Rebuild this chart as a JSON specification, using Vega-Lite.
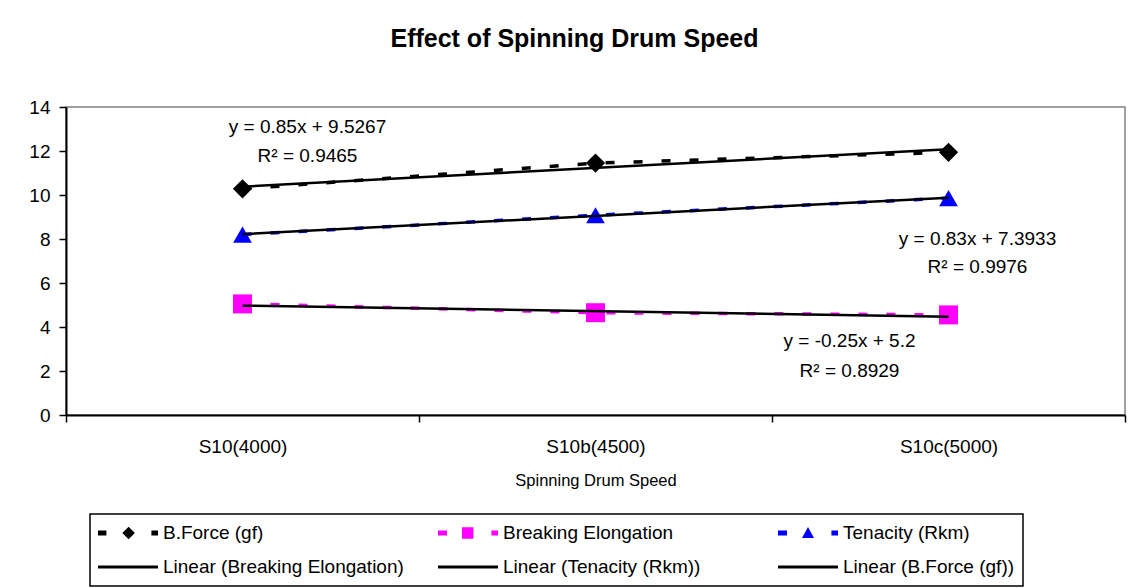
{
  "$schema": "https://vega.github.io/schema/vega-lite/v6.json",
  "width": 1059,
  "height": 308,
  "autosize": {"type": "none"},
  "padding": {"left": 66, "top": 107, "right": 10, "bottom": 173},
  "background": "white",
  "title": {
    "text": "Effect of Spinning Drum Speed",
    "font": "Liberation Sans",
    "fontSize": 25,
    "fontWeight": "bold",
    "color": "black",
    "anchor": "middle",
    "dx": -21,
    "baseline": "alphabetic",
    "offset": 26
  },
  "datasets": {
    "obs": [
      {"series": "B.Force (gf)", "speed": "S10(4000)", "value": 10.28},
      {"series": "B.Force (gf)", "speed": "S10b(4500)", "value": 11.45},
      {"series": "B.Force (gf)", "speed": "S10c(5000)", "value": 11.94},
      {"series": "Breaking Elongation", "speed": "S10(4000)", "value": 5.05},
      {"series": "Breaking Elongation", "speed": "S10b(4500)", "value": 4.65},
      {"series": "Breaking Elongation", "speed": "S10c(5000)", "value": 4.55},
      {"series": "Tenacity (Rkm)", "speed": "S10(4000)", "value": 8.2},
      {"series": "Tenacity (Rkm)", "speed": "S10b(4500)", "value": 9.08},
      {"series": "Tenacity (Rkm)", "speed": "S10c(5000)", "value": 9.86}
    ],
    "trend": [
      {"trend": "Linear (B.Force (gf))", "speed": "S10(4000)", "value": 10.38},
      {"trend": "Linear (B.Force (gf))", "speed": "S10c(5000)", "value": 12.08},
      {"trend": "Linear (Tenacity (Rkm))", "speed": "S10(4000)", "value": 8.22},
      {"trend": "Linear (Tenacity (Rkm))", "speed": "S10c(5000)", "value": 9.88},
      {"trend": "Linear (Breaking Elongation)", "speed": "S10(4000)", "value": 4.97},
      {"trend": "Linear (Breaking Elongation)", "speed": "S10c(5000)", "value": 4.47}
    ],
    "notes": [
      {"group": "B.Force (gf)", "speed": "S10(4000)", "value": 12.82, "label": "y = 0.85x + 9.5267"},
      {"group": "B.Force (gf)", "speed": "S10(4000)", "value": 11.5, "label": "R² = 0.9465"},
      {"group": "Tenacity (Rkm)", "speed": "S10c(5000)", "value": 7.73, "label": "y = 0.83x + 7.3933"},
      {"group": "Tenacity (Rkm)", "speed": "S10c(5000)", "value": 6.45, "label": "R² = 0.9976"},
      {"group": "Breaking Elongation", "speed": "S10c(5000)", "value": 3.09, "label": "y = -0.25x + 5.2"},
      {"group": "Breaking Elongation", "speed": "S10c(5000)", "value": 1.73, "label": "R² = 0.8929"}
    ],
    "entries": [
      {"entry": "B.Force (gf)"},
      {"entry": "Breaking Elongation"},
      {"entry": "Tenacity (Rkm)"},
      {"entry": "Linear (Breaking Elongation)"},
      {"entry": "Linear (Tenacity (Rkm))"},
      {"entry": "Linear (B.Force (gf))"}
    ]
  },
  "encoding": {
    "x": {
      "field": "speed",
      "type": "nominal",
      "sort": null,
      "scale": {"type": "band", "domain": ["S10(4000)", "S10b(4500)", "S10c(5000)"], "paddingInner": 0, "paddingOuter": 0},
      "axis": {
        "title": "Spinning Drum Speed",
        "titleFont": "Liberation Sans",
        "titleFontSize": 16.5,
        "titleFontWeight": "normal",
        "titleColor": "black",
        "titlePadding": 16,
        "labelAngle": 0,
        "labelFont": "Liberation Sans",
        "labelFontSize": 19,
        "labelColor": "black",
        "labelPadding": 15,
        "tickBand": "extent",
        "tickSize": 7,
        "tickWidth": 1.5,
        "tickColor": "black",
        "domainColor": "black",
        "domainWidth": 2,
        "grid": false
      }
    },
    "y": {
      "field": "value",
      "type": "quantitative",
      "scale": {"domain": [0, 14], "nice": false, "zero": true},
      "axis": {
        "title": null,
        "values": [0, 2, 4, 6, 8, 10, 12, 14],
        "labelFont": "Liberation Sans",
        "labelFontSize": 19,
        "labelColor": "black",
        "labelPadding": 9,
        "tickSize": 7,
        "tickWidth": 1.5,
        "tickColor": "black",
        "domainColor": "black",
        "domainWidth": 2,
        "grid": false
      }
    }
  },
  "layer": [
    {
      "data": {"name": "obs"},
      "mark": {"type": "line", "strokeWidth": 3.5, "strokeDash": [9, 19]},
      "encoding": {
        "color": {
          "field": "series",
          "type": "nominal",
          "scale": {"domain": ["B.Force (gf)", "Breaking Elongation", "Tenacity (Rkm)"], "range": ["#000000", "#FF00FF", "#0000FF"]},
          "legend": null
        }
      }
    },
    {
      "data": {"name": "obs"},
      "mark": {"type": "point", "filled": true, "opacity": 1, "strokeWidth": 0},
      "encoding": {
        "color": {
          "field": "series",
          "type": "nominal",
          "scale": {"domain": ["B.Force (gf)", "Breaking Elongation", "Tenacity (Rkm)"], "range": ["#000000", "#FF00FF", "#0000FF"]},
          "legend": null
        },
        "shape": {
          "field": "series",
          "type": "nominal",
          "scale": {"domain": ["B.Force (gf)", "Breaking Elongation", "Tenacity (Rkm)"], "range": ["diamond", "square", "triangle-up"]},
          "legend": null
        },
        "size": {
          "field": "series",
          "type": "nominal",
          "scale": {"domain": ["B.Force (gf)", "Breaking Elongation", "Tenacity (Rkm)"], "range": [370, 350, 430]},
          "legend": null
        }
      }
    },
    {
      "data": {"name": "trend"},
      "mark": {"type": "line", "color": "black", "strokeWidth": 2.5},
      "encoding": {
        "detail": {"field": "trend", "type": "nominal"}
      }
    },
    {
      "data": {"name": "notes"},
      "transform": [{"filter": "datum.group === 'B.Force (gf)'"}],
      "mark": {"type": "text", "font": "Liberation Sans", "fontSize": 19, "color": "black", "align": "center", "baseline": "alphabetic", "dx": 65},
      "encoding": {"text": {"field": "label"}}
    },
    {
      "data": {"name": "notes"},
      "transform": [{"filter": "datum.group === 'Tenacity (Rkm)'"}],
      "mark": {"type": "text", "font": "Liberation Sans", "fontSize": 19, "color": "black", "align": "center", "baseline": "alphabetic", "dx": 29},
      "encoding": {"text": {"field": "label"}}
    },
    {
      "data": {"name": "notes"},
      "transform": [{"filter": "datum.group === 'Breaking Elongation'"}],
      "mark": {"type": "text", "font": "Liberation Sans", "fontSize": 19, "color": "black", "align": "center", "baseline": "alphabetic", "dx": -99},
      "encoding": {"text": {"field": "label"}}
    },
    {
      "data": {"name": "entries"},
      "transform": [{"filter": "false"}],
      "mark": {"type": "point", "filled": true, "opacity": 1, "size": 3600, "strokeWidth": 0},
      "encoding": {
        "color": {
          "field": "entry",
          "type": "nominal",
          "scale": {
            "domain": ["B.Force (gf)", "Breaking Elongation", "Tenacity (Rkm)", "Linear (Breaking Elongation)", "Linear (Tenacity (Rkm))", "Linear (B.Force (gf))"],
            "range": ["#000000", "#FF00FF", "#0000FF", "#000000", "#000000", "#000000"]
          },
          "legend": {"title": null}
        },
        "shape": {
          "field": "entry",
          "type": "nominal",
          "scale": {
            "domain": ["B.Force (gf)", "Breaking Elongation", "Tenacity (Rkm)", "Linear (Breaking Elongation)", "Linear (Tenacity (Rkm))", "Linear (B.Force (gf))"],
            "range": [
              "M-1,-0.08H-0.72V0.08H-1Z M0.02,-0.21L0.23,0L0.02,0.21L-0.19,0Z M0.78,-0.08H1V0.08H0.78Z",
              "M-1,-0.08H-0.7V0.08H-1Z M-0.2,-0.19H0.18V0.19H-0.2Z M0.78,-0.08H1V0.08H0.78Z",
              "M-1,-0.08H-0.7V0.08H-1Z M0,-0.2L0.2,0.17H-0.2Z M0.78,-0.08H1V0.08H0.78Z",
              "M-1,-0.05H1V0.05H-1Z",
              "M-1,-0.05H1V0.05H-1Z",
              "M-1,-0.05H1V0.05H-1Z"
            ]
          },
          "legend": {"title": null}
        }
      }
    }
  ],
  "resolve": {
    "scale": {"color": "independent", "shape": "independent", "size": "independent"},
    "legend": {"color": "independent", "shape": "independent"}
  },
  "config": {
    "font": "Liberation Sans",
    "view": {"stroke": "#808080", "strokeWidth": 1.5},
    "legend": {
      "orient": "none",
      "legendX": 24,
      "legendY": 407,
      "columns": 3,
      "direction": "horizontal",
      "strokeColor": "black",
      "strokeWidth": 1.5,
      "padding": 8,
      "labelFont": "Liberation Sans",
      "labelFontSize": 19,
      "labelColor": "black",
      "labelOffset": 5,
      "labelLimit": 400,
      "symbolSize": 3600,
      "symbolStrokeWidth": 0,
      "symbolOpacity": 1,
      "clipHeight": 22,
      "rowPadding": 12,
      "columnPadding": 34,
      "gridAlign": "all"
    }
  }
}
